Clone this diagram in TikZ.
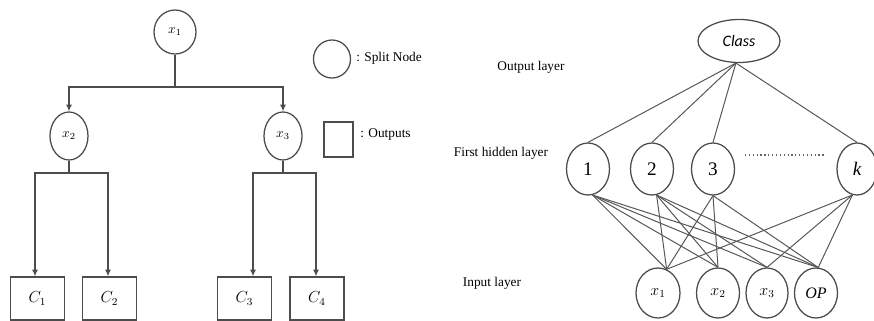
\documentclass[tikz,border=0pt]{standalone}
\usepackage{fontspec}
\setmainfont{Liberation Serif}
\newfontfamily\calib{Carlito}
\usetikzlibrary{shapes.geometric,arrows.meta}
\begin{document}
\begin{tikzpicture}[x=0.75pt,y=-0.75pt,
  ln/.style={draw=black!70,line width=0.95pt},
  arr/.style={ln,-{Latex[length=5pt,width=4.5pt]}},
  oval/.style={ln,ellipse,inner sep=0pt},
  splitnode/.style={oval,minimum width=28.5pt,minimum height=36pt},
  outbox/.style={ln,rectangle,inner sep=0pt,minimum width=40.5pt,minimum height=32.25pt,font=\large},
  hid/.style={oval,minimum width=32.25pt,minimum height=39pt,font=\Large},
  inp/.style={oval,minimum width=32.25pt,minimum height=37.5pt,font=\large},
  lbl/.style={font=\normalsize,inner sep=0pt},
  net/.style={draw=black!66,line width=0.75pt}]
\useasboundingbox (0,0) rectangle (874,321);

% ---- decision tree ----
\node[oval,minimum width=31.5pt,minimum height=33pt] (t1) at (175,32) {$x_1$};
\node[splitnode] (t2) at (69,136) {$x_2$};
\node[splitnode] (t3) at (283,136) {$x_3$};
\node[outbox] (c1) at (37.5,298.5) {$C_1$};
\node[outbox] (c2) at (109.5,298.5) {$C_2$};
\node[outbox] (c3) at (244.5,298.5) {$C_3$};
\node[outbox] (c4) at (317,298.5) {$C_4$};

\coordinate (j1) at (175,87);
\coordinate (j2) at (69,173);
\coordinate (j3) at (283,173);
\draw[ln] (t1.south) -- (j1);
\draw[arr] (j1) -| (t2.north);
\draw[arr] (j1) -| (t3.north);
\draw[ln] (t2.south) -- (j2);
\draw[arr] (j2) -| (c1.north -| 35,0);
\draw[arr] (j2) -| (c2.north -| 108,0);
\draw[ln] (t3.south) -- (j3);
\draw[arr] (j3) -| (c3.north -| 253,0);
\draw[arr] (j3) -| (c4.north -| 316,0);

% ---- legend ----
\node[oval,minimum width=27.75pt,minimum height=28.5pt] (lc) at (332,59) {};
\node[lbl,anchor=west] (lct) at (356,58) {: Split Node};
\node[ln,rectangle,inner sep=0pt,minimum width=21.75pt,minimum height=26.25pt] (ls) at (338.5,139.5) {};
\node[lbl,anchor=west] (lst) at (360,135) {: Outputs};

% ---- neural network ----
\node[lbl] (lo) at (531,67) {Output layer};
\node[lbl] (lh) at (501,153) {First hidden layer};
\node[lbl] (li) at (492,283) {Input layer};

\node[oval,minimum width=61.5pt,minimum height=32.25pt,font=\calib\itshape\large] (cls) at (739,41) {Class};

\node[hid] (h1) at (588,169) {1};
\node[hid] (h2) at (652,169) {2};
\node[hid] (h3) at (713,169) {3};
\node[hid,minimum width=30pt] (hk) at (857,169) {\itshape k};
\draw[black!60,line width=0.9pt,dotted] (745,155) -- (825,155);

\node[inp,minimum width=33pt] (i1) at (658,293) {$x_1$};
\node[inp] (i2) at (718,293) {$x_2$};
\node[inp,minimum width=31.5pt] (i3) at (767,293) {$x_3$};
\node[inp] (iop) at (816,293) {\itshape OP};

\coordinate (cb) at (cls.-98);
\foreach \h in {h1,h2,h3,hk}
  \draw[net] (cb) -- (\h.north);

\coordinate (b1) at (h1.-80);
\coordinate (b2) at (h2.-80);
\coordinate (b3) at (h3.south);
\coordinate (bk) at (hk.-100);
\coordinate (a1) at (i1.70);
\coordinate (a2) at (i2.north);
\coordinate (a3) at (i3.north);
\coordinate (a4) at (iop.85);

\foreach \t in {a1,a2,a3,a4} \draw[net] (b1) -- (\t);
\foreach \t in {a1,a2,a3,a4} \draw[net] (b2) -- (\t);
\foreach \t in {a1,a2,a4} \draw[net] (b3) -- (\t);
\foreach \t in {a1,a3,a4} \draw[net] (bk) -- (\t);
\end{tikzpicture}
\end{document}
